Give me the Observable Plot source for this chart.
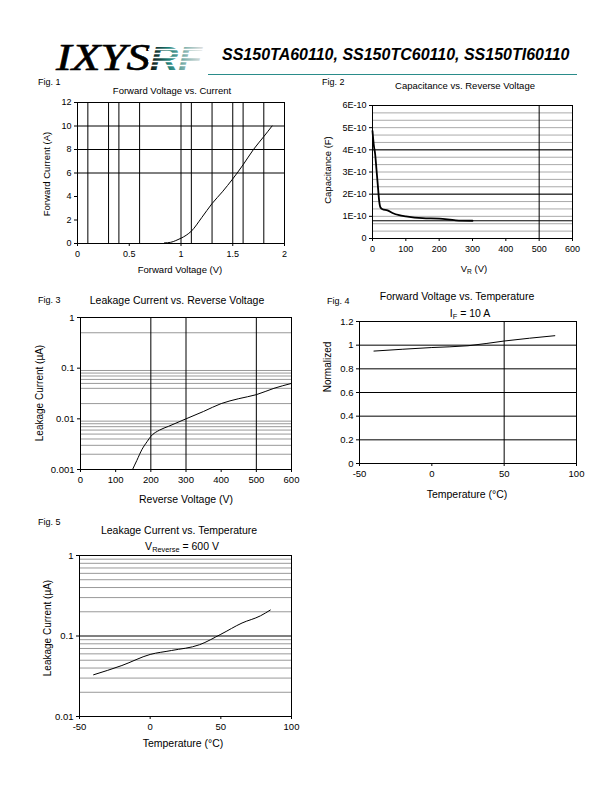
<!DOCTYPE html>
<html><head><meta charset="utf-8">
<script src="https://cdn.jsdelivr.net/npm/d3@7"></script>
<script src="https://cdn.jsdelivr.net/npm/@observablehq/plot@0.6"></script>
<style>
body{margin:0;background:#fff;}
#page{position:relative;width:612px;height:792px;overflow:hidden;font-family:"Liberation Sans",Arial,sans-serif;color:#000;background:#fff;}
.t{position:absolute;white-space:nowrap;line-height:1;}
.c{transform:translate(-50%,-50%);}
.l{transform:translate(0,-50%);}
.r{transform:translate(-50%,-50%) rotate(-90deg);}
sub{font-size:0.7em;vertical-align:-0.25em;line-height:0;}
</style></head><body><div id="page"></div>
<script>
// ---------- DATA ----------
// Fig. 1 Forward Voltage vs. Current
const fig1Voltage = [0.84, 0.9, 0.95, 1.0, 1.05, 1.1, 1.2, 1.3, 1.4, 1.5, 1.6, 1.7, 1.8, 1.88];
const fig1Current = [0.05, 0.1, 0.25, 0.45, 0.7, 1.05, 2.2, 3.4, 4.4, 5.5, 6.7, 8.0, 9.1, 10.0];
const fig1XTicks = [0, 0.5, 1, 1.5, 2];
const fig1YTicks = [0, 2, 4, 6, 8, 10, 12];
const fig1VGrid = [0.1, 0.3, 0.4, 0.6, 1.0, 1.1, 1.3, 1.5, 1.6, 1.8];
const fig1HGrid = [6, 8, 10];

// Fig. 2 Capacitance vs. Reverse Voltage
const fig2Voltage = [0, 4, 8, 12, 16, 20, 24, 30, 45, 60, 80, 100, 150, 200, 250, 300];
const fig2Cap = [4.85e-10, 4.2e-10, 3.8e-10, 3.1e-10, 2.4e-10, 1.7e-10, 1.4e-10, 1.32e-10, 1.27e-10, 1.15e-10, 1.05e-10, 1.0e-10, 0.92e-10, 0.9e-10, 0.82e-10, 0.8e-10];
const fig2XTicks = [0, 100, 200, 300, 400, 500, 600];
const fig2YTicks = [0, 1e-10, 2e-10, 3e-10, 4e-10, 5e-10, 6e-10];
const fig2MinorGrid = [1/3, 2/3, 1, 4/3, 5/3, 2, 7/3, 8/3, 3, 10/3, 11/3, 4, 13/3, 14/3, 5, 16/3, 17/3].map(v => v * 1e-10);
const fig2MajorGrid = [0.8e-10, 2e-10, 4e-10];
const fig2VGrid = [500];

// Fig. 3 Leakage Current vs. Reverse Voltage
const fig3Voltage = [148, 160, 175, 190, 200, 225, 250, 300, 350, 400, 450, 500, 550, 600];
const fig3Leak = [0.001, 0.0015, 0.0025, 0.0036, 0.0045, 0.006, 0.0071, 0.01, 0.014, 0.02, 0.025, 0.03, 0.04, 0.05];
const fig3XTicks = [0, 100, 200, 300, 400, 500, 600];
const fig3YTicks = [0.001, 0.01, 0.1, 1];
const fig3MinorGrid = [0.5, 0.09, 0.08, 0.07, 0.06, 0.05, 0.04, 0.02, 0.009, 0.008, 0.007, 0.006, 0.005, 0.004, 0.003, 0.002];
const fig3VGrid = [200, 300, 500];

// Fig. 4 Forward Voltage vs. Temperature (IF = 10 A)
const fig4Temp = [-40, 0, 25, 50, 85];
const fig4Norm = [0.95, 0.98, 0.995, 1.035, 1.08];
const fig4XTicks = [-50, 0, 50, 100];
const fig4YTicks = [0, 0.2, 0.4, 0.6, 0.8, 1, 1.2];
const fig4HGrid = [0.2, 0.4, 0.6, 0.8, 1];
const fig4VGrid = [50];

// Fig. 5 Leakage Current vs. Temperature (VReverse = 600 V)
const fig5Temp = [-40, -20, 0, 15, 35, 50, 65, 78, 85];
const fig5Leak = [0.033, 0.043, 0.059, 0.066, 0.078, 0.105, 0.145, 0.178, 0.21];
const fig5XTicks = [-50, 0, 50, 100];
const fig5YTicks = [0.01, 0.1, 1];
const fig5MinorGrid = [0.9, 0.8, 0.7, 0.6, 0.5, 0.4, 0.3, 0.2, 0.09, 0.08, 0.07, 0.06, 0.05, 0.04, 0.03, 0.02];
const fig5MajorGrid = [0.1];

// ---------- HELPERS ----------
const page = document.getElementById("page");
const FONT = "'Liberation Sans', Arial, sans-serif";

function text(html, x, y, size, cls = "c", extra = "") {
  const d = document.createElement("div");
  d.className = "t " + cls;
  d.style.left = x + "px";
  d.style.top = y + "px";
  d.style.fontSize = size + "px";
  if (extra) d.style.cssText += extra;
  d.innerHTML = html;
  page.appendChild(d);
}

function chart({frame: [L, T, R, B], x, y, marks, fs}) {
  const mL = 44, mT = 6, mR = 16, mB = 24;
  const svg = Plot.plot({
    width: R - L + mL + mR,
    height: B - T + mT + mB,
    marginLeft: mL, marginTop: mT, marginRight: mR, marginBottom: mB,
    style: {fontFamily: FONT, fontSize: fs + "px", color: "#000", background: "transparent", overflow: "visible"},
    x: Object.assign({label: null, tickSize: 3, tickPadding: 4}, x),
    y: Object.assign({label: null, tickSize: 3, tickPadding: 3}, y),
    marks: [...marks, Plot.frame({stroke: "#000", strokeWidth: 1})]
  });
  svg.style.position = "absolute";
  svg.style.left = (L - mL) + "px";
  svg.style.top = (T - mT) + "px";
  page.appendChild(svg);
}

const zip = (a, b) => a.map((v, i) => ({x: v, y: b[i]}));
const fmtStr = d => String(d);

// ---------- HEADER ----------
const logo = document.createElementNS("http://www.w3.org/2000/svg", "svg");
logo.setAttribute("width", "170"); logo.setAttribute("height", "56");
logo.style.cssText = "position:absolute;left:52px;top:26px;overflow:visible;";
logo.innerHTML = `
<defs><linearGradient id="rfg" x1="0" x2="1" y1="0" y2="0">
<stop offset="0" stop-color="#111"/><stop offset="0.35" stop-color="#1d7f78"/>
<stop offset="0.7" stop-color="#8fb9b5"/><stop offset="1" stop-color="#e0e0e0"/></linearGradient></defs>
<text x="4" y="44" font-family="'Liberation Serif', 'Times New Roman', serif" font-style="italic" font-size="38" textLength="94" lengthAdjust="spacingAndGlyphs" fill="#000" stroke="#000" stroke-width="0.6">IXYS</text>
<text x="98" y="44" font-family="'Liberation Sans', Arial, sans-serif" font-weight="bold" font-style="italic" font-size="33" textLength="52" lengthAdjust="spacingAndGlyphs" fill="url(#rfg)">RF</text>
<g stroke="#fff" stroke-width="1.3">
<line x1="96" x2="160" y1="23.5" y2="23.5"/><line x1="96" x2="160" y1="27.5" y2="27.5"/>
<line x1="96" x2="160" y1="31.5" y2="31.5"/><line x1="96" x2="160" y1="35.5" y2="35.5"/>
<line x1="96" x2="160" y1="39.5" y2="39.5"/></g>`;
page.appendChild(logo);
text("SS150TA60110, SS150TC60110, SS150TI60110", 222, 55, 16, "l", "font-weight:bold;font-style:italic;");
const rule = document.createElement("div");
rule.style.cssText = "position:absolute;left:208px;top:74px;width:369px;height:1px;background:#2a8c8a;";
page.appendChild(rule);

// ---------- FIG 1 ----------
text("Fig. 1", 38, 82, 9, "l");
text("Forward Voltage vs. Current", 172, 91, 9.5);
text("Forward Voltage (V)", 180, 270, 9.5);
text("Forward Current (A)", 47, 174, 9.5, "r");
chart({
  frame: [77, 102, 284, 243], fs: 9,
  x: {domain: [0, 2], ticks: fig1XTicks, tickFormat: fmtStr},
  y: {domain: [0, 12], ticks: fig1YTicks, tickFormat: fmtStr},
  marks: [
    Plot.ruleX(fig1VGrid, {stroke: "#000", strokeWidth: 1}),
    Plot.ruleY(fig1HGrid, {stroke: "#000", strokeWidth: 1}),
    Plot.line(zip(fig1Voltage, fig1Current), {x: "x", y: "y", stroke: "#000", strokeWidth: 1, curve: "monotone-x"})
  ]
});

// ---------- FIG 2 ----------
text("Fig. 2", 322, 82, 9, "l");
text("Capacitance vs. Reverse Voltage", 465, 86, 9.5);
text("V<sub>R</sub> (V)", 474, 269, 9.5);
text("Capacitance (F)", 328, 170, 9.5, "r");
chart({
  frame: [372, 105, 572, 238], fs: 9,
  x: {domain: [0, 600], ticks: fig2XTicks, tickFormat: fmtStr},
  y: {domain: [0, 6e-10], ticks: fig2YTicks, tickFormat: d => d === 0 ? "0" : Math.round(d * 1e10) + "E-10"},
  marks: [
    Plot.ruleY(fig2MinorGrid, {stroke: "#aaa", strokeWidth: 1}),
    Plot.ruleY(fig2MajorGrid, {stroke: "#000", strokeWidth: 1}),
    Plot.ruleX(fig2VGrid, {stroke: "#000", strokeWidth: 1}),
    Plot.line(zip(fig2Voltage, fig2Cap), {x: "x", y: "y", stroke: "#000", strokeWidth: 1.8, curve: "monotone-x"})
  ]
});

// ---------- FIG 3 ----------
text("Fig. 3", 38, 300, 9, "l");
text("Leakage Current vs. Reverse Voltage", 177, 300, 10.5);
text("Reverse Voltage (V)", 186, 499, 10.5);
text("Leakage Current (µA)", 40, 393, 10, "r");
chart({
  frame: [80, 317, 291, 469], fs: 9.5,
  x: {domain: [0, 600], ticks: fig3XTicks, tickFormat: fmtStr},
  y: {type: "log", domain: [0.001, 1], ticks: fig3YTicks, tickFormat: fmtStr},
  marks: [
    Plot.ruleY(fig3MinorGrid, {stroke: "#999", strokeWidth: 1}),
    Plot.ruleX(fig3VGrid, {stroke: "#000", strokeWidth: 1}),
    Plot.line(zip(fig3Voltage, fig3Leak), {x: "x", y: "y", stroke: "#000", strokeWidth: 1, curve: "monotone-x"})
  ]
});

// ---------- FIG 4 ----------
text("Fig. 4", 327, 301, 9, "l");
text("Forward Voltage vs. Temperature", 457, 296, 10.5);
text("I<sub>F</sub> = 10 A", 470, 313, 10.5);
text("Temperature (°C)", 467, 494, 10.5);
text("Normalized", 328, 367, 10, "r");
chart({
  frame: [359, 321, 576, 463], fs: 9.5,
  x: {domain: [-50, 100], ticks: fig4XTicks, tickFormat: fmtStr},
  y: {domain: [0, 1.2], ticks: fig4YTicks, tickFormat: fmtStr},
  marks: [
    Plot.ruleY(fig4HGrid, {stroke: "#000", strokeWidth: 1}),
    Plot.ruleX(fig4VGrid, {stroke: "#000", strokeWidth: 1}),
    Plot.line(zip(fig4Temp, fig4Norm), {x: "x", y: "y", stroke: "#000", strokeWidth: 1, curve: "monotone-x"})
  ]
});

// ---------- FIG 5 ----------
text("Fig. 5", 38, 522, 9, "l");
text("Leakage Current vs. Temperature", 179, 530, 10.5);
text("V<sub>Reverse</sub> = 600 V", 182, 546, 10.5);
text("Temperature (°C)", 183, 743, 10.5);
text("Leakage Current (µA)", 48, 628, 10, "r");
chart({
  frame: [79, 555, 291, 716], fs: 9.5,
  x: {domain: [-50, 100], ticks: fig5XTicks, tickFormat: fmtStr},
  y: {type: "log", domain: [0.01, 1], ticks: fig5YTicks, tickFormat: fmtStr},
  marks: [
    Plot.ruleY(fig5MinorGrid, {stroke: "#999", strokeWidth: 1}),
    Plot.ruleY(fig5MajorGrid, {stroke: "#000", strokeWidth: 1}),
    Plot.line(zip(fig5Temp, fig5Leak), {x: "x", y: "y", stroke: "#000", strokeWidth: 1, curve: "monotone-x"})
  ]
});
</script></body></html>
